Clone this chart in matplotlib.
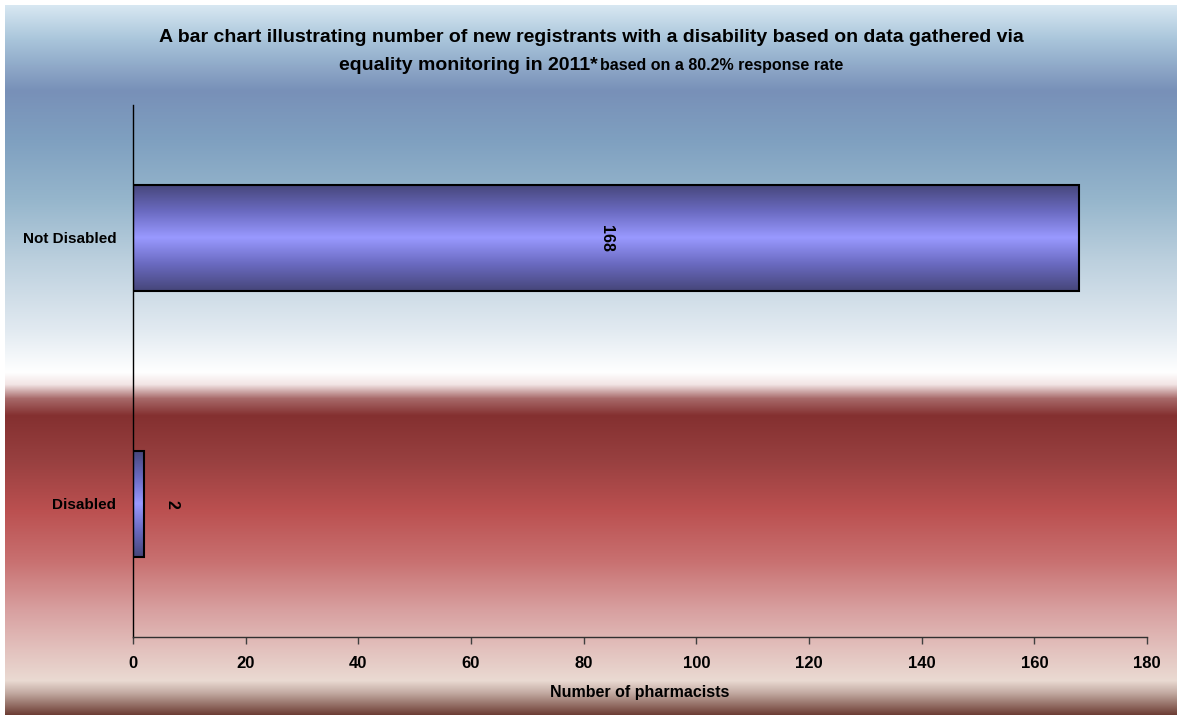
import numpy as np
import matplotlib
matplotlib.use("Agg")
import matplotlib.pyplot as plt
from matplotlib.colors import LinearSegmentedColormap, to_rgb

categories = ["Disabled", "Not Disabled"]
values = [2, 168]
x_ticks = [0, 20, 40, 60, 80, 100, 120, 140, 160, 180]
title_line1 = "A bar chart illustrating number of new registrants with a disability based on data gathered via"
title_line2a = "equality monitoring in 2011*"
title_line2b = "based on a 80.2% response rate"
x_label = "Number of pharmacists"

plt.rcParams['font.family'] = ['Liberation Sans', 'DejaVu Sans']
plt.rcParams['font.weight'] = 'bold'

W, H = 1177, 715
fig = plt.figure(figsize=(W / 100, H / 100), dpi=100)
fig.patch.set_facecolor('white')

# background gradient (vertical), figure pixel y from top
stops = [
    (5, "#d8e8f2"), (40, "#a8c4da"), (90, "#7890b8"), (140, "#7fa0c0"),
    (200, "#96b6cc"), (260, "#bcd0de"), (330, "#e2eaf1"), (372, "#ffffff"),
    (384, "#f2e4e4"), (398, "#a86a6a"), (415, "#843030"), (460, "#984040"),
    (510, "#bb5050"), (560, "#c87070"), (610, "#d8a0a0"), (650, "#e3c2be"),
    (680, "#eadad2"), (692, "#c4aca4"), (715, "#6a3a30"),
]
y0, y1 = 5, 715
ys = np.arange(y0, y1)
sy = np.array([s[0] for s in stops], float)
sc = np.array([to_rgb(s[1]) for s in stops])
grad = np.stack([np.interp(ys, sy, sc[:, k]) for k in range(3)], axis=1)
bg = fig.add_axes([5 / W, 0, (W - 5) / W, (y1 - y0) / H], zorder=-10)
bg.imshow(grad[:, None, :], aspect='auto', extent=[0, 1, 0, 1], interpolation='bilinear')
bg.axis('off')

ax = fig.add_axes([133 / W, 1 - 637 / H, (1147 - 133) / W, (637 - 105) / H])
ax.patch.set_alpha(0)

ypos = np.arange(len(categories))
bh = 0.4
bars = ax.barh(ypos, values, height=bh, facecolor='none', edgecolor='black', linewidth=1.5, zorder=3)

bar_cmap = LinearSegmentedColormap.from_list(
    "barg", ["#46467a", "#6a6ac0", "#9999ff", "#6a6ac0", "#46467a"])
gv = np.linspace(0, 1, 200)[:, None]
for b, v, y in zip(bars, values, ypos):
    im = ax.imshow(gv, cmap=bar_cmap, aspect='auto', extent=[0, v, y - bh / 2, y + bh / 2],
                   interpolation='bilinear', zorder=2)
    im.set_clip_path(b)

ax.set_xlim(0, 180)
ax.set_ylim(-0.5, 1.5)
ax.set_xticks(x_ticks)
ax.set_xticklabels([str(t) for t in x_ticks], fontsize=12, fontweight='bold')
ax.set_yticks(ypos)
ax.set_yticklabels(categories, fontsize=11, fontweight='bold')
ax.tick_params(axis='x', direction='out', length=5, pad=9, width=1, color='#404040')
ax.tick_params(axis='y', length=0, pad=12)
for s in ['top', 'right']:
    ax.spines[s].set_visible(False)
ax.spines['left'].set_linewidth(1)
ax.spines['bottom'].set_linewidth(1)
ax.spines['bottom'].set_color('#303030')
ax.set_xlabel(x_label, fontsize=11.5, fontweight='bold', labelpad=10)

# value labels
ax.text(values[1] / 2, ypos[1], str(values[1]), rotation=-90, ha='center', va='center',
        fontsize=11.5, fontweight='bold', zorder=5)
ax.annotate(str(values[0]), xy=(values[0], ypos[0]), xytext=(20, 0), textcoords='offset points',
            rotation=-90, ha='center', va='center', fontsize=11.5, fontweight='bold', zorder=5)

# title
fig.text(591 / W, 1 - 38 / H, title_line1, ha='center', va='center', fontsize=14, fontweight='bold')
fig.text(598 / W, 1 - 70 / H, title_line2a, ha='right', va='baseline', fontsize=14, fontweight='bold')
fig.text(600 / W, 1 - 70 / H, title_line2b, ha='left', va='baseline', fontsize=11.5, fontweight='bold')

fig.savefig("out.png", dpi=100)
